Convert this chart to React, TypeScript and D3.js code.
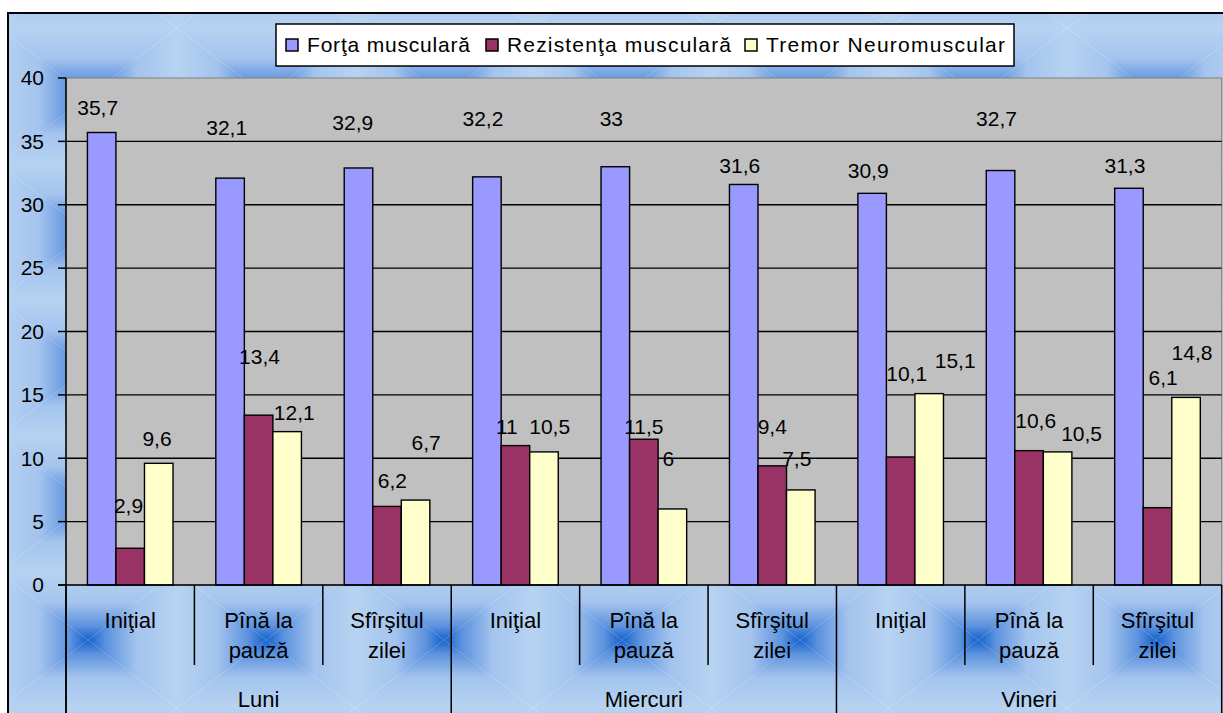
import * as d3 from "d3";
import React from "react";

const periods = [["Iniţial"], ["Pînă la", "pauză"], ["Sfîrşitul", "zilei"]];
const days = ["Luni", "Miercuri", "Vineri"];
const seriesNames = ["Forţa musculară", "Rezistenţa musculară", "Tremor Neuromuscular"];

const forta = [35.7, 32.1, 32.9, 32.2, 33, 31.6, 30.9, 32.7, 31.3];
const rezistenta = [2.9, 13.4, 6.2, 11, 11.5, 9.4, 10.1, 10.6, 6.1];
const tremor = [9.6, 12.1, 6.7, 10.5, 6, 7.5, 15.1, 10.5, 14.8];
const yTicks = [0, 5, 10, 15, 20, 25, 30, 35, 40];

// the data labels were dragged by hand in the original: level on the value axis, shift in bar widths
const fortaLabelAt = [37.7, 36.1, 36.5, 36.8, 36.8, 33.1, 32.7, 36.8, 33.1];
const fortaLabelShift = [-0.14, -0.12, -0.2, -0.14, -0.14, -0.14, -0.14, -0.14, -0.14];
const rezLabelAt = [6.27, 18.0, 8.2, 12.5, 12.5, 12.5, 16.65, 12.94, 16.37];
const rezLabelShift = [-0.06, 0.03, 0.19, -0.3, 0, 0, 0.21, 0.23, 0.2];
const tremLabelAt = [11.52, 13.57, 11.2, 12.5, 10.0, 10.0, 17.67, 11.95, 18.3];
const tremLabelShift = [-0.06, 0.25, 0.37, 0.2, -0.14, -0.14, 0.91, 0.84, 0.21];

const colors = ["#9999FF", "#993366", "#FFFFCC"];
const W = 1223;
const H = 713;
const plot = { left: 66, right: 1221.7, top: 78, bottom: 585 };
const font = "'Liberation Sans', Arial, sans-serif";

// square "from center" gradient tile for the chart area
const tileW = 178;
const tileH = 136;
const quiltStops: [number, string][] = [
  [0, "#B7D3F1"],
  [0.45, "#A4C4EE"],
  [0.8, "#5C92DE"],
  [1, "#1461CC"],
];

const legendX = [286, 486, 745];
const legendTextLen = [163, 224, 239];

export default function App() {
  const cats = d3.range(days.length * periods.length);
  const x = d3.scaleBand<number>().domain(cats).range([plot.left, plot.right]);
  const bw = x.bandwidth();
  const barW = bw / 4.5;
  const xs = d3
    .scaleBand<number>()
    .domain([0, 1, 2])
    .range([barW * 0.75, bw - barW * 0.75]);
  const y = d3.scaleLinear().domain([0, 40]).range([plot.bottom, plot.top]);

  const series = [forta, rezistenta, tremor];
  const labelAt = [fortaLabelAt, rezLabelAt, tremLabelAt];
  const labelShift = [fortaLabelShift, rezLabelShift, tremLabelShift];
  const fmt = (v: number) => String(v).replace(".", ",");

  const grads = [
    { id: "qT", x1: 0, y1: 0, x2: 0, y2: 1 },
    { id: "qB", x1: 0, y1: 1, x2: 0, y2: 0 },
    { id: "qL", x1: 0, y1: 0, x2: 1, y2: 0 },
    { id: "qR", x1: 1, y1: 0, x2: 0, y2: 0 },
  ];
  const cx = tileW / 2;
  const cy = tileH / 2;
  const tris = [
    { g: "qT", pts: `0,0 ${tileW},0 ${cx},${cy}` },
    { g: "qB", pts: `0,${tileH} ${tileW},${tileH} ${cx},${cy}` },
    { g: "qL", pts: `0,0 0,${tileH} ${cx},${cy}` },
    { g: "qR", pts: `${tileW},0 ${tileW},${tileH} ${cx},${cy}` },
  ];

  const boundaries = d3.range(cats.length + 1).map((i) =>
    i < cats.length ? (x(i) as number) : plot.right
  );

  return (
    <svg
      width={W}
      height={H}
      style={{ position: "absolute", left: 0, top: 0, fontFamily: font }}
    >
      <defs>
        {grads.map((g) => (
          <linearGradient key={g.id} id={g.id} x1={g.x1} y1={g.y1} x2={g.x2} y2={g.y2}>
            {quiltStops.map(([o, c]) => (
              <stop key={o} offset={o} stopColor={c} />
            ))}
          </linearGradient>
        ))}
        <pattern id="quilt" patternUnits="userSpaceOnUse" x={-1} y={28} width={tileW} height={tileH}>
          {tris.map((t) => (
            <polygon key={t.g} points={t.pts} fill={`url(#${t.g})`} />
          ))}
        </pattern>
      </defs>

      <rect x={0} y={0} width={W} height={H} fill="#fff" />
      <rect x={8} y={13} width={1300} height={800} fill="url(#quilt)" stroke="#000" strokeWidth={2} />

      {/* plot area */}
      <rect
        x={plot.left}
        y={plot.top}
        width={plot.right - plot.left}
        height={plot.bottom - plot.top}
        fill="#C0C0C0"
        stroke="#808080"
        strokeWidth={1}
      />
      {yTicks.slice(1, -1).map((t) => (
        <line key={t} x1={plot.left} x2={plot.right} y1={y(t)} y2={y(t)} stroke="#000" strokeWidth={1.3} />
      ))}

      {/* bars */}
      {series.map((vals, s) =>
        vals.map((v, i) => (
          <rect
            key={`${s}-${i}`}
            x={(x(i) as number) + (xs(s) as number)}
            y={y(v)}
            width={xs.bandwidth()}
            height={y(0) - y(v)}
            fill={colors[s]}
            stroke="#000"
            strokeWidth={1.4}
          />
        ))
      )}

      {/* data labels */}
      {series.map((vals, s) =>
        vals.map((v, i) => (
          <text
            key={`l${s}-${i}`}
            x={(x(i) as number) + (xs(s) as number) + xs.bandwidth() * (0.5 + labelShift[s][i])}
            y={y(labelAt[s][i])}
            dy="0.35em"
            textAnchor="middle"
            fontSize={21}
            fill="#000"
          >
            {fmt(v)}
          </text>
        ))
      )}

      {/* value axis */}
      <line x1={plot.left} x2={plot.left} y1={plot.top} y2={H + 20} stroke="#000" strokeWidth={1.5} />
      {yTicks.map((t) => (
        <g key={t}>
          <line x1={plot.left - 8} x2={plot.left} y1={y(t)} y2={y(t)} stroke="#000" strokeWidth={1.5} />
          <text x={44} y={y(t)} dy="0.35em" textAnchor="end" fontSize={21}>
            {t}
          </text>
        </g>
      ))}

      {/* category axis */}
      <line x1={plot.left - 8} x2={plot.right} y1={y(0)} y2={y(0)} stroke="#000" strokeWidth={1.5} />
      {boundaries.map((bx, i) => (
        <line
          key={`b${i}`}
          x1={bx}
          x2={bx}
          y1={y(0)}
          y2={i % periods.length === 0 ? H + 20 : 665}
          stroke="#000"
          strokeWidth={1.5}
        />
      ))}
      {cats.map((i) => {
        const lines = periods[i % periods.length];
        const mid = (x(i) as number) + bw / 2;
        return (
          <text key={`c${i}`} x={mid} textAnchor="middle" fontSize={22}>
            {lines.map((ln, k) => (
              <tspan key={k} x={mid} y={620.5 + k * 30} dy="0.35em">
                {ln}
              </tspan>
            ))}
          </text>
        );
      })}
      {days.map((d, k) => {
        const x0 = boundaries[k * periods.length];
        const x1 = boundaries[(k + 1) * periods.length];
        return (
          <text key={d} x={(x0 + x1) / 2} y={699} dy="0.35em" textAnchor="middle" fontSize={22}>
            {d}
          </text>
        );
      })}

      {/* legend */}
      <rect x={276} y={24} width={738} height={42} fill="#fff" stroke="#000" strokeWidth={1.5} />
      {seriesNames.map((n, k) => (
        <g key={n}>
          <rect x={legendX[k]} y={39} width={12} height={12} fill={colors[k]} stroke="#000" strokeWidth={1.5} />
          <text
            x={legendX[k] + 21}
            y={45}
            dy="0.35em"
            fontSize={21}
            textLength={legendTextLen[k]}
            lengthAdjust="spacing"
          >
            {n}
          </text>
        </g>
      ))}
    </svg>
  );
}
